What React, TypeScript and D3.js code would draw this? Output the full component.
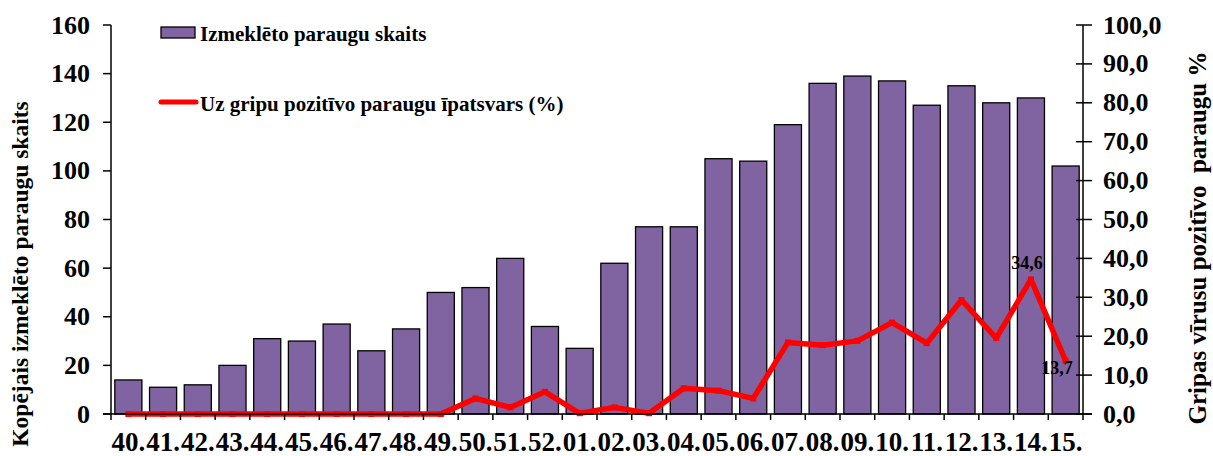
import React from "react";
import * as d3 from "d3";

const categories = ["40.", "41.", "42.", "43.", "44.", "45.", "46.", "47.", "48.", "49.", "50.", "51.", "52.", "01.", "02.", "03.", "04.", "05.", "06.", "07.", "08.", "09.", "10.", "11.", "12.", "13.", "14.", "15."];
const samples = [14, 11, 12, 20, 31, 30, 37, 26, 35, 50, 52, 64, 36, 27, 62, 77, 77, 105, 104, 119, 136, 139, 137, 127, 135, 128, 130, 102];
const positivePct = [0, 0, 0, 0, 0, 0, 0, 0, 0, 0, 4.0, 1.7, 5.7, 0.2, 1.7, 0.2, 6.6, 6.0, 4.0, 18.4, 17.7, 18.8, 23.5, 18.2, 29.3, 19.5, 34.6, 13.7];
const leftTicks = [0, 20, 40, 60, 80, 100, 120, 140, 160];
const rightTicks = [0, 10, 20, 30, 40, 50, 60, 70, 80, 90, 100];
const labelled = [
  { cat: "14.", text: "34,6", dx: -4, dy: -10, anchor: "middle" },
  { cat: "15.", text: "13,7", dx: 7, dy: 13, anchor: "end" },
];

const W = 1213, H = 456;
const left = 111, right = 1083, top = 25, bottom = 414;
const FONT = "Liberation Serif";
const BAR = "#8064A2";

export default function App() {
  const x = d3.scaleBand<string>().domain(categories).range([left, right]).paddingInner(0.22).paddingOuter(0.11);
  const yL = d3.scaleLinear().domain([0, 160]).range([bottom, top]);
  const yR = d3.scaleLinear().domain([0, 100]).range([bottom, top]);
  const cx = (c: string) => (x(c) ?? 0) + x.bandwidth() / 2;
  const line = d3.line<number>().x((_, i) => cx(categories[i])).y((d) => yR(d));
  const step = x.step();
  return (
    <svg width={W} height={H} style={{ position: "absolute", left: 0, top: 0 }} fontFamily={FONT}>
      <rect width={W} height={H} fill="#fff" />
      {categories.map((c, i) => (
        <rect key={c} x={x(c)} y={yL(samples[i])} width={x.bandwidth()} height={bottom - yL(samples[i])} fill={BAR} stroke="#000" strokeWidth={1.3} />
      ))}
      <path d={line(positivePct) ?? ""} fill="none" stroke="#ff0000" strokeWidth={5.5} strokeLinejoin="round" />
      {positivePct.map((v, i) => (
        <rect key={i} x={cx(categories[i]) - 3} y={yR(v) - 3} width={6} height={6} fill="#ff0000" />
      ))}
      <line x1={left} x2={left} y1={top} y2={bottom} stroke="#000" strokeWidth={1.5} />
      <line x1={right} x2={right} y1={top} y2={bottom} stroke="#000" strokeWidth={1.5} />
      <line x1={left - 8} x2={right + 9} y1={bottom} y2={bottom} stroke="#000" strokeWidth={1.5} />
      {leftTicks.map((t) => (
        <g key={"l" + t}>
          <line x1={left - 8} x2={left} y1={yL(t)} y2={yL(t)} stroke="#000" strokeWidth={1.5} />
          <text x={left - 21} y={yL(t)} dy="0.33em" textAnchor="end" fontFamily={FONT} fontSize={26} fontWeight="bold">{t}</text>
        </g>
      ))}
      {rightTicks.map((t) => (
        <g key={"r" + t}>
          <line x1={right - 7} x2={right + 9} y1={yR(t)} y2={yR(t)} stroke="#000" strokeWidth={1.5} />
          <text x={right + 20} y={yR(t)} dy="0.33em" textAnchor="start" fontFamily={FONT} fontSize={26} fontWeight="bold">{t.toFixed(1).replace(".", ",")}</text>
        </g>
      ))}
      {categories.map((c, i) => (
        <line key={"t" + c} x1={left + step * i} x2={left + step * i} y1={bottom} y2={bottom + 6} stroke="#000" strokeWidth={1.5} />
      ))}
      <line x1={right} x2={right} y1={bottom} y2={bottom + 6} stroke="#000" strokeWidth={1.5} />
      {categories.map((c) => (
        <text key={"x" + c} x={cx(c)} y={451} textAnchor="middle" fontFamily={FONT} fontSize={27} fontWeight="bold">{c}</text>
      ))}
      {labelled.map((l) => {
        const i = categories.indexOf(l.cat);
        return (
          <text key={l.text} x={cx(l.cat) + l.dx} y={yR(positivePct[i]) + l.dy} textAnchor={l.anchor as any} fontFamily={FONT} fontSize={18} fontWeight="bold">{l.text}</text>
        );
      })}
      <text transform={`translate(28,274) rotate(-90)`} textAnchor="middle" fontFamily={FONT} fontSize={23.5} fontWeight="bold">Kopējais izmeklēto paraugu skaits</text>
      <text transform={`translate(1206,238) rotate(-90)`} textAnchor="middle" fontFamily={FONT} fontSize={25} fontWeight="bold" style={{ whiteSpace: "pre" }}>{"Gripas vīrusu pozitīvo  paraugu %"}</text>
      <rect x={161} y={27} width={34} height={11} fill={BAR} stroke="#000" strokeWidth={1.3} />
      <text x={200} y={41} fontFamily={FONT} fontSize={21} fontWeight="bold">Izmeklēto paraugu skaits</text>
      <line x1={161} x2={196} y1={102} y2={102} stroke="#ff0000" strokeWidth={5} strokeLinecap="round" />
      <text x={200} y={111} fontFamily={FONT} fontSize={21} fontWeight="bold">Uz gripu pozitīvo paraugu īpatsvars (%)</text>
    </svg>
  );
}
